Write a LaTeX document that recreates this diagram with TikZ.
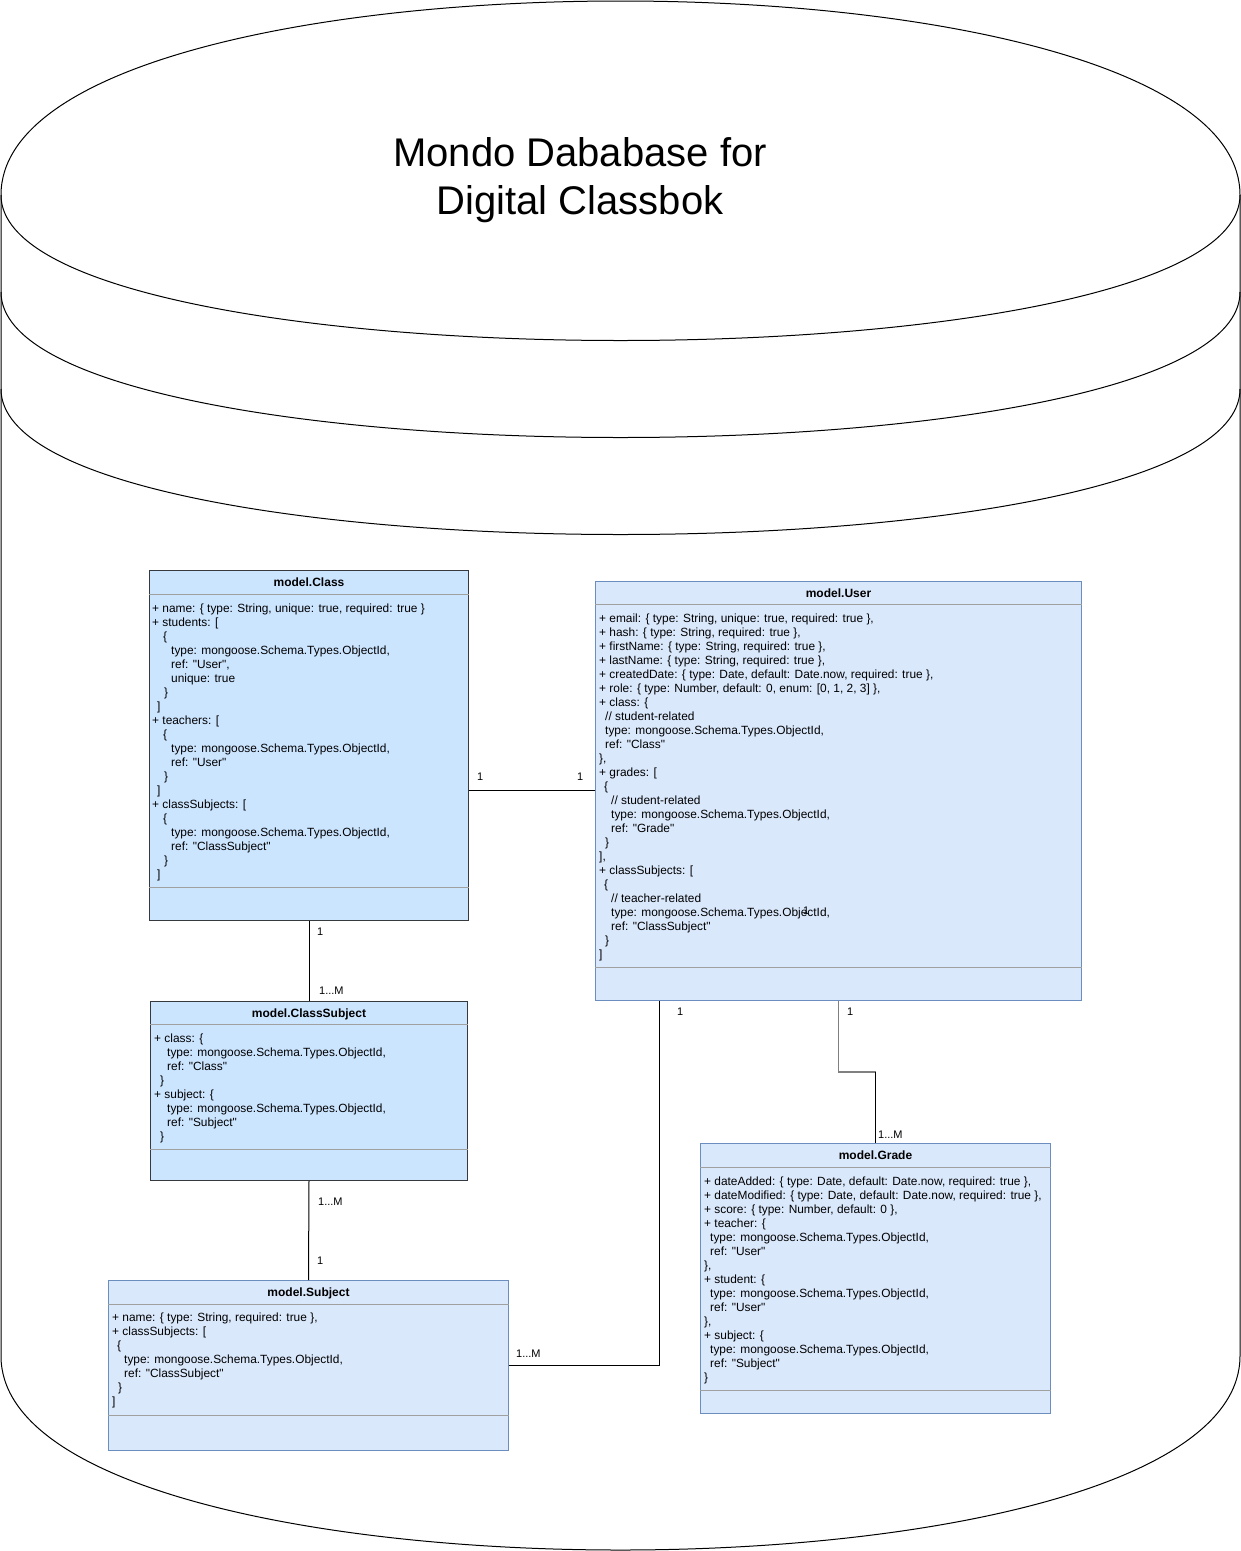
\documentclass[tikz,border=0pt]{standalone}
\usepackage{fontspec}
\setmainfont{Liberation Sans}
\newfontfamily\codefont{Liberation Sans}
\usetikzlibrary{calc}
\definecolor{clsfill}{HTML}{CCE5FF}
\definecolor{clsdraw}{HTML}{36393D}
\definecolor{usrfill}{HTML}{DAE8FC}
\definecolor{usrdraw}{HTML}{6C8EBF}
\definecolor{sepgray}{HTML}{A0A0A0}
\newcommand\Ln[1]{\strut\hspace*{#1pt}}
\tikzset{
  boxA/.style={draw=clsdraw, fill=clsfill, line width=1pt, inner sep=0pt, anchor=north west},
  boxB/.style={draw=usrdraw, fill=usrfill, line width=1pt, inner sep=0pt, anchor=north west},
  sepline/.style={draw=sepgray, line width=1pt},
  hdr/.style={font=\codefont\fontsize{12}{14}\selectfont\bfseries, anchor=base, inner sep=0pt},
  body/.style={font=\codefont\fontsize{11.9}{14}\selectfont, anchor=north west, align=left, inner sep=0pt},
  conn/.style={draw=black, line width=1pt},
  connG/.style={draw=gray, line width=1.8pt},
  lbl/.style={font=\codefont\fontsize{11}{13}\selectfont, anchor=base west, inner sep=0pt},
  cyl/.style={draw=black, line width=1pt},
  ttl/.style={font=\fontsize{40}{48}\selectfont, anchor=base, inner sep=0pt}
}
\begin{document}
\begin{tikzpicture}[x=1pt, y=-1pt]
\useasboundingbox (0,0) rectangle (1241,1551);
\fill[white] (0,0) rectangle (1241,1551);
% cylinder (datastore)
\draw[cyl, fill=white] (1,195) .. controls (1,-63.67) and (1240,-63.67) .. (1240,195)
  -- (1240,1356) .. controls (1240,1614.67) and (1,1614.67) .. (1,1356) -- cycle;
\draw[cyl] (1,195) .. controls (1,389) and (1240,389) .. (1240,195);
\draw[cyl] (1,292) .. controls (1,486) and (1240,486) .. (1240,292);
\draw[cyl] (1,389) .. controls (1,583) and (1240,583) .. (1240,389);
\node[ttl] (t1) at (580,166) {Mondo Dababase for};
\node[ttl] (t2) at (580,214) {Digital Classbok};

% model.Class
\node[boxA, minimum width=319pt, minimum height=350pt] (cls) at (149,570) {};
\draw[sepline] ($(cls.north west)+(0,24)$) -- ($(cls.north east)+(0,24)$);
\draw[sepline] ($(cls.north west)+(0,317)$) -- ($(cls.north east)+(0,317)$);
\node[hdr] (clsh) at ($(cls.north)+(0,16)$) {model.Class};
\node[body] (clsb) at (152,602.2) {%
\Ln{0}+ name: \{ type: String, unique: true, required: true \}\\
\Ln{0}+ students: [\\
\Ln{11}\{\\
\Ln{19}type: mongoose.Schema.Types.ObjectId,\\
\Ln{19}ref: "User",\\
\Ln{19}unique: true\\
\Ln{12}\}\\
\Ln{5}]\\
\Ln{0}+ teachers: [\\
\Ln{11}\{\\
\Ln{19}type: mongoose.Schema.Types.ObjectId,\\
\Ln{19}ref: "User"\\
\Ln{12}\}\\
\Ln{5}]\\
\Ln{0}+ classSubjects: [\\
\Ln{11}\{\\
\Ln{19}type: mongoose.Schema.Types.ObjectId,\\
\Ln{19}ref: "ClassSubject"\\
\Ln{12}\}\\
\Ln{5}]};

% model.User
\node[boxB, minimum width=486pt, minimum height=419pt] (usr) at (595,581) {};
\draw[sepline] ($(usr.north west)+(0,23)$) -- ($(usr.north east)+(0,23)$);
\draw[sepline] ($(usr.north west)+(0,386)$) -- ($(usr.north east)+(0,386)$);
\node[hdr] (usrh) at ($(usr.north)+(0,16)$) {model.User};
\node[body] (usrb) at (599,612.2) {%
\Ln{0}+ email: \{ type: String, unique: true, required: true \},\\
\Ln{0}+ hash: \{ type: String, required: true \},\\
\Ln{0}+ firstName: \{ type: String, required: true \},\\
\Ln{0}+ lastName: \{ type: String, required: true \},\\
\Ln{0}+ createdDate: \{ type: Date, default: Date.now, required: true \},\\
\Ln{0}+ role: \{ type: Number, default: 0, enum: [0, 1, 2, 3] \},\\
\Ln{0}+ class: \{\\
\Ln{6}// student-related\\
\Ln{6}type: mongoose.Schema.Types.ObjectId,\\
\Ln{6}ref: "Class"\\
\Ln{0}\},\\
\Ln{0}+ grades: [\\
\Ln{5}\{\\
\Ln{12}// student-related\\
\Ln{12}type: mongoose.Schema.Types.ObjectId,\\
\Ln{12}ref: "Grade"\\
\Ln{6}\}\\
\Ln{0}],\\
\Ln{0}+ classSubjects: [\\
\Ln{5}\{\\
\Ln{12}// teacher-related\\
\Ln{12}type: mongoose.Schema.Types.ObjectId,\\
\Ln{12}ref: "ClassSubject"\\
\Ln{6}\}\\
\Ln{0}]};

% model.ClassSubject
\node[boxA, minimum width=317pt, minimum height=179pt] (cs) at (150,1001) {};
\draw[sepline] ($(cs.north west)+(0,23)$) -- ($(cs.north east)+(0,23)$);
\draw[sepline] ($(cs.north west)+(0,148)$) -- ($(cs.north east)+(0,148)$);
\node[hdr] (csh) at ($(cs.north)+(0,16)$) {model.ClassSubject};
\node[body] (csb) at (154,1032.2) {%
\Ln{0}+ class: \{\\
\Ln{13}type: mongoose.Schema.Types.ObjectId,\\
\Ln{13}ref: "Class"\\
\Ln{6}\}\\
\Ln{0}+ subject: \{\\
\Ln{13}type: mongoose.Schema.Types.ObjectId,\\
\Ln{13}ref: "Subject"\\
\Ln{6}\}};

% model.Subject
\node[boxB, minimum width=400pt, minimum height=170pt] (sub) at (108,1280) {};
\draw[sepline] ($(sub.north west)+(0,24)$) -- ($(sub.north east)+(0,24)$);
\draw[sepline] ($(sub.north west)+(0,135)$) -- ($(sub.north east)+(0,135)$);
\node[hdr] (subh) at ($(sub.north)+(0,16)$) {model.Subject};
\node[body] (subb) at (112,1311.2) {%
\Ln{0}+ name: \{ type: String, required: true \},\\
\Ln{0}+ classSubjects: [\\
\Ln{5}\{\\
\Ln{12}type: mongoose.Schema.Types.ObjectId,\\
\Ln{12}ref: "ClassSubject"\\
\Ln{6}\}\\
\Ln{0}]};

% model.Grade
\node[boxB, minimum width=350pt, minimum height=270pt] (grd) at (700,1143) {};
\draw[sepline] ($(grd.north west)+(0,24)$) -- ($(grd.north east)+(0,24)$);
\draw[sepline] ($(grd.north west)+(0,247)$) -- ($(grd.north east)+(0,247)$);
\node[hdr] (grdh) at ($(grd.north)+(0,16)$) {model.Grade};
\node[body] (grdb) at (704,1175.2) {%
\Ln{0}+ dateAdded: \{ type: Date, default: Date.now, required: true \},\\
\Ln{0}+ dateModified: \{ type: Date, default: Date.now, required: true \},\\
\Ln{0}+ score: \{ type: Number, default: 0 \},\\
\Ln{0}+ teacher: \{\\
\Ln{6}type: mongoose.Schema.Types.ObjectId,\\
\Ln{6}ref: "User"\\
\Ln{0}\},\\
\Ln{0}+ student: \{\\
\Ln{6}type: mongoose.Schema.Types.ObjectId,\\
\Ln{6}ref: "User"\\
\Ln{0}\},\\
\Ln{0}+ subject: \{\\
\Ln{6}type: mongoose.Schema.Types.ObjectId,\\
\Ln{6}ref: "Subject"\\
\Ln{0}\}};

% connectors
\coordinate (cuY) at (0,790);
\draw[conn] (cls.east |- cuY) -- (usr.west |- cuY);
\draw[conn] (cls.south) -- (cs.north);
\draw[conn] (cs.south) -- (sub.north);
\coordinate (usC) at (659,1365);
\draw[conn] (usr.south -| usC) -- (usC) -- (sub.east |- usC);
\coordinate (ugY) at (0,1072);
\draw[connG] (usr.south) -- (usr.south |- ugY) -- (grd.north |- ugY);
\draw[conn] (grd.north |- ugY) -- (grd.north);

% labels
\node[lbl] (l1) at (477,780) {1};
\node[lbl] (l2) at (577,780) {1};
\node[lbl] (l3) at (317,935) {1};
\node[lbl] (l4) at (319,994) {1...M};
\node[lbl] (l5) at (318,1205) {1...M};
\node[lbl] (l6) at (317,1264) {1};
\node[lbl] (l7) at (677,1015) {1};
\node[lbl] (l8) at (847,1015) {1};
\node[lbl] (l9) at (878,1138) {1...M};
\node[lbl] (l10) at (516,1357) {1...M};
\node[lbl] (l11) at (803,914) {1};
\end{tikzpicture}
\end{document}
